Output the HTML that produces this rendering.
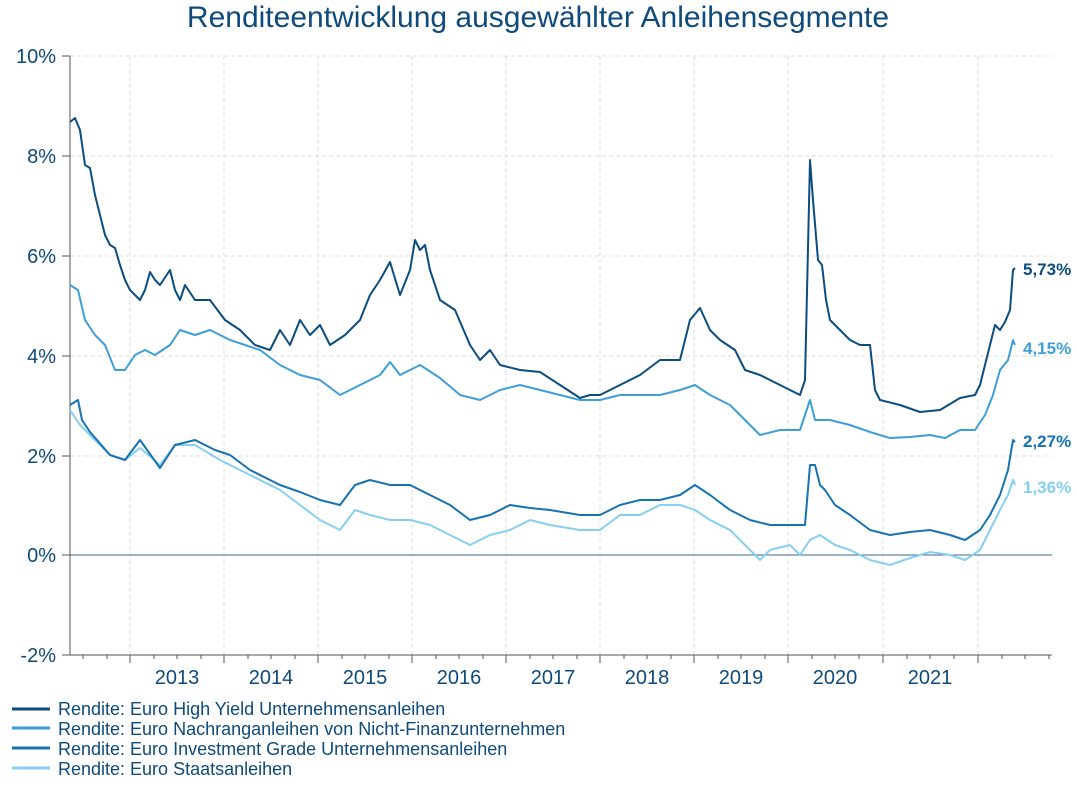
<!DOCTYPE html>
<html><head><meta charset="utf-8"><style>
body{margin:0;background:#fff}
svg text{font-family:"Liberation Sans",Arial,sans-serif;fill:#0e4a7c}
</style></head><body>
<svg width="1077" height="781" viewBox="0 0 1077 781" xmlns="http://www.w3.org/2000/svg">
<text x="538" y="27" font-size="30" text-anchor="middle">Renditeentwicklung ausgewählter Anleihensegmente</text>
<g stroke="#dddddd" stroke-dasharray="4,3" stroke-width="1">
<line x1="70" y1="56" x2="1052" y2="56"/><line x1="70" y1="156" x2="1052" y2="156"/><line x1="70" y1="256" x2="1052" y2="256"/><line x1="70" y1="356" x2="1052" y2="356"/><line x1="70" y1="456" x2="1052" y2="456"/>
<line x1="130" y1="56" x2="130" y2="655"/><line x1="224" y1="56" x2="224" y2="655"/><line x1="318" y1="56" x2="318" y2="655"/><line x1="412" y1="56" x2="412" y2="655"/><line x1="506" y1="56" x2="506" y2="655"/><line x1="600" y1="56" x2="600" y2="655"/><line x1="694" y1="56" x2="694" y2="655"/><line x1="788" y1="56" x2="788" y2="655"/><line x1="883" y1="56" x2="883" y2="655"/><line x1="978" y1="56" x2="978" y2="655"/>
</g>
<line x1="70" y1="555" x2="1052" y2="555" stroke="#3a6a8a" stroke-width="1"/>
<line x1="70" y1="56" x2="70" y2="655" stroke="#555" stroke-width="1"/>
<line x1="62" y1="655" x2="1052" y2="655" stroke="#555" stroke-width="1"/>
<g stroke="#555" stroke-width="1">
<line x1="62" y1="56" x2="70" y2="56"/><line x1="62" y1="156" x2="70" y2="156"/><line x1="62" y1="256" x2="70" y2="256"/><line x1="62" y1="356" x2="70" y2="356"/><line x1="62" y1="456" x2="70" y2="456"/><line x1="62" y1="555" x2="70" y2="555"/>
<line x1="130" y1="655" x2="130" y2="663"/><line x1="224" y1="655" x2="224" y2="663"/><line x1="318" y1="655" x2="318" y2="663"/><line x1="412" y1="655" x2="412" y2="663"/><line x1="506" y1="655" x2="506" y2="663"/><line x1="600" y1="655" x2="600" y2="663"/><line x1="694" y1="655" x2="694" y2="663"/><line x1="788" y1="655" x2="788" y2="663"/><line x1="883" y1="655" x2="883" y2="663"/><line x1="978" y1="655" x2="978" y2="663"/>
</g>
<g stroke="#555" stroke-width="1">
<line x1="83" y1="655" x2="83" y2="659"/><line x1="107" y1="655" x2="107" y2="659"/>
<line x1="154" y1="655" x2="154" y2="659"/><line x1="177" y1="655" x2="177" y2="659"/><line x1="201" y1="655" x2="201" y2="659"/>
<line x1="248" y1="655" x2="248" y2="659"/><line x1="271" y1="655" x2="271" y2="659"/><line x1="295" y1="655" x2="295" y2="659"/>
<line x1="342" y1="655" x2="342" y2="659"/><line x1="365" y1="655" x2="365" y2="659"/><line x1="389" y1="655" x2="389" y2="659"/>
<line x1="436" y1="655" x2="436" y2="659"/><line x1="459" y1="655" x2="459" y2="659"/><line x1="483" y1="655" x2="483" y2="659"/>
<line x1="530" y1="655" x2="530" y2="659"/><line x1="553" y1="655" x2="553" y2="659"/><line x1="577" y1="655" x2="577" y2="659"/>
<line x1="624" y1="655" x2="624" y2="659"/><line x1="647" y1="655" x2="647" y2="659"/><line x1="671" y1="655" x2="671" y2="659"/>
<line x1="718" y1="655" x2="718" y2="659"/><line x1="741" y1="655" x2="741" y2="659"/><line x1="765" y1="655" x2="765" y2="659"/>
<line x1="812" y1="655" x2="812" y2="659"/><line x1="835" y1="655" x2="835" y2="659"/><line x1="859" y1="655" x2="859" y2="659"/>
<line x1="907" y1="655" x2="907" y2="659"/><line x1="930" y1="655" x2="930" y2="659"/><line x1="954" y1="655" x2="954" y2="659"/>
<line x1="1002" y1="655" x2="1002" y2="659"/><line x1="1025" y1="655" x2="1025" y2="659"/><line x1="1049" y1="655" x2="1049" y2="659"/>
</g>
<g font-size="20" text-anchor="end">
<text x="56" y="63">10%</text><text x="56" y="163">8%</text><text x="56" y="263">6%</text><text x="56" y="363">4%</text><text x="56" y="463">2%</text><text x="56" y="562">0%</text><text x="56" y="662">-2%</text>
</g>
<g font-size="20" text-anchor="middle">
<text x="177" y="684">2013</text><text x="271" y="684">2014</text><text x="365" y="684">2015</text><text x="459" y="684">2016</text><text x="553" y="684">2017</text><text x="647" y="684">2018</text><text x="741" y="684">2019</text><text x="835" y="684">2020</text><text x="930" y="684">2021</text>
</g>
<g fill="none" stroke-width="2" stroke-linejoin="round">
<polyline stroke="#86cff0" points="70,410 80,425 95,440 110,455 125,460 140,448 160,465 175,445 195,445 220,460 250,475 280,490 300,505 320,520 340,530 355,510 370,515 390,520 410,520 430,525 450,535 470,545 490,535 510,530 530,520 550,525 580,530 600,530 620,515 640,515 660,505 680,505 695,510 710,520 730,530 750,550 760,560 770,550 790,545 800,555 810,540 820,535 835,545 850,550 870,560 890,565 910,558 930,552 950,555 965,560 980,550 990,530 1000,510 1008,495 1013,480 1015,485"/>
<polyline stroke="#3e9ed8" points="70,285 78,290 85,320 95,335 105,345 115,370 125,370 135,355 145,350 155,355 170,345 180,330 195,335 210,330 230,340 260,350 280,365 300,375 320,380 340,395 360,385 380,375 390,362 400,375 420,365 440,378 460,395 480,400 500,390 520,385 540,390 560,395 580,400 600,400 620,395 640,395 660,395 680,390 695,385 710,395 730,405 750,425 760,435 780,430 800,430 810,400 815,420 830,420 850,425 870,432 890,438 910,437 930,435 945,438 960,430 975,430 985,415 993,395 1000,370 1008,360 1013,340 1015,345"/>
<polyline stroke="#1672b0" points="70,405 78,400 82,420 90,432 110,455 125,460 140,440 160,468 175,445 195,440 215,450 230,455 250,470 280,485 300,492 320,500 340,505 355,485 370,480 390,485 410,485 430,495 450,505 470,520 490,515 510,505 530,508 550,510 580,515 600,515 620,505 640,500 660,500 680,495 695,485 710,495 730,510 750,520 770,525 790,525 805,525 810,465 815,465 820,485 825,490 835,505 850,515 870,530 890,535 910,532 930,530 950,535 965,540 980,530 990,515 1000,495 1008,470 1013,440 1015,442"/>
<polyline stroke="#0b4d7f" points="70,122 75,118 80,130 85,165 90,168 95,195 100,215 105,235 110,245 115,248 120,265 125,280 130,290 135,295 140,300 145,290 150,272 155,280 160,285 170,270 175,290 180,300 185,285 195,300 210,300 225,320 240,330 255,345 270,350 280,330 290,345 300,320 310,335 320,325 330,345 345,335 360,320 370,295 380,280 390,262 400,295 410,270 415,240 420,250 425,245 430,270 440,300 455,310 470,345 480,360 490,350 500,365 520,370 540,372 560,385 580,398 590,395 600,395 610,390 620,385 640,375 660,360 680,360 690,320 700,308 710,330 720,340 735,350 745,370 760,375 780,385 800,395 805,380 810,160 813,200 818,260 822,265 826,300 830,320 840,330 850,340 860,345 870,345 875,390 880,400 900,405 920,412 940,410 960,398 975,395 980,385 990,345 995,325 1000,330 1005,322 1010,310 1013,270 1015,268"/>
</g>
<g font-size="17" font-weight="bold">
<text x="1023" y="275" style="fill:#0b4d7f">5,73%</text>
<text x="1023" y="354" style="fill:#3e9ed8">4,15%</text>
<text x="1023" y="447" style="fill:#1672b0">2,27%</text>
<text x="1023" y="493" style="fill:#86cff0">1,36%</text>
</g>
<g stroke-width="3">
<line x1="12" y1="709" x2="50" y2="709" stroke="#0b4d7f"/>
<line x1="12" y1="728" x2="50" y2="728" stroke="#3e9ed8"/>
<line x1="12" y1="748" x2="50" y2="748" stroke="#1672b0"/>
<line x1="12" y1="768" x2="50" y2="768" stroke="#86cff0"/>
</g>
<g font-size="18">
<text x="58" y="715">Rendite: Euro High Yield Unternehmensanleihen</text>
<text x="58" y="735">Rendite: Euro Nachranganleihen von Nicht-Finanzunternehmen</text>
<text x="58" y="755">Rendite: Euro Investment Grade Unternehmensanleihen</text>
<text x="58" y="775">Rendite: Euro Staatsanleihen</text>
</g>
</svg>
</body></html>
